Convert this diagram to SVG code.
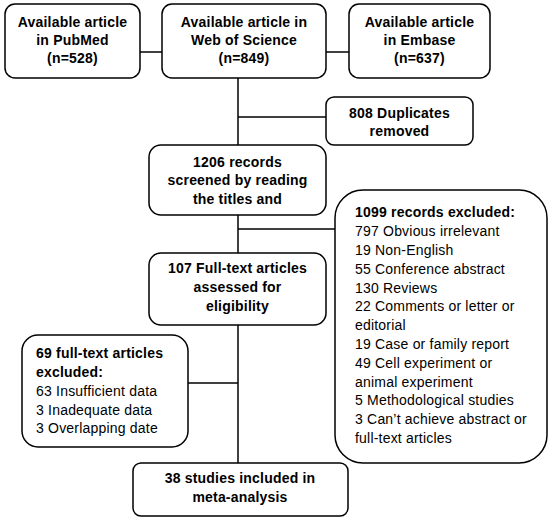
<svg xmlns="http://www.w3.org/2000/svg" width="550" height="520" viewBox="0 0 550 520">
<style>
.box{fill:#fff;stroke:#000;stroke-width:1.5}
.ln{stroke:#000;stroke-width:1.5;fill:none}
text{font-family:"Liberation Sans",Arial,sans-serif;font-size:14px;fill:#000;letter-spacing:0.2px}
.b{font-weight:bold}
.c{text-anchor:middle}
</style>
<rect width="550" height="520" fill="#fff"/>
<g id="connectors">
<line class="ln" x1="140" y1="52" x2="162" y2="52"/>
<line class="ln" x1="326" y1="52" x2="349" y2="52"/>
<line class="ln" x1="238" y1="78" x2="238" y2="145"/>
<line class="ln" x1="238" y1="117" x2="326" y2="117"/>
<line class="ln" x1="238" y1="215" x2="238" y2="253"/>
<line class="ln" x1="238" y1="229" x2="335" y2="229"/>
<line class="ln" x1="238" y1="325" x2="238" y2="463"/>
<line class="ln" x1="188" y1="383" x2="238" y2="383"/>
</g>
<g id="pubmed">
<rect class="box" x="5" y="4" width="135" height="74" rx="10"/>
<text class="b c" x="72.5" y="27">Available article</text>
<text class="b c" x="72.5" y="45">in PubMed</text>
<text class="b c" x="72.5" y="63">(n=528)</text>
</g>
<g id="wos">
<rect class="box" x="162" y="4" width="164" height="74" rx="10"/>
<text class="b c" x="244" y="27">Available article in</text>
<text class="b c" x="244" y="45">Web of Science</text>
<text class="b c" x="244" y="63">(n=849)</text>
</g>
<g id="embase">
<rect class="box" x="349" y="4" width="141" height="74" rx="10"/>
<text class="b c" x="419.5" y="27">Available article</text>
<text class="b c" x="419.5" y="45">in Embase</text>
<text class="b c" x="419.5" y="63">(n=637)</text>
</g>
<g id="duplicates">
<rect class="box" x="326" y="97" width="147" height="48" rx="8"/>
<text class="b c" x="399.5" y="118">808 Duplicates</text>
<text class="b c" x="399.5" y="136">removed</text>
</g>
<g id="screened">
<rect class="box" x="149" y="145" width="177" height="70" rx="12"/>
<text class="b c" x="237.5" y="167">1206 records</text>
<text class="b c" x="237.5" y="185">screened by reading</text>
<text class="b c" x="237.5" y="204">the titles and</text>
</g>
<g id="excluded1099">
<rect class="box" x="335" y="190" width="212" height="273" rx="28"/>
<text class="b" x="355" y="217">1099 records excluded:</text>
<text x="355" y="236">797 Obvious irrelevant</text>
<text x="355" y="255">19 Non-English</text>
<text x="355" y="274">55 Conference abstract</text>
<text x="355" y="293">130 Reviews</text>
<text x="355" y="311">22 Comments or letter or</text>
<text x="355" y="330">editorial</text>
<text x="355" y="349">19 Case or family report</text>
<text x="355" y="368">49 Cell experiment or</text>
<text x="355" y="387">animal experiment</text>
<text x="355" y="405">5 Methodological studies</text>
<text x="355" y="424">3 Can’t achieve abstract or</text>
<text x="355" y="443">full-text articles</text>
</g>
<g id="fulltext">
<rect class="box" x="149" y="253" width="177" height="72" rx="12"/>
<text class="b c" x="237.5" y="273">107 Full-text articles</text>
<text class="b c" x="237.5" y="292">assessed for</text>
<text class="b c" x="237.5" y="311">eligibility</text>
</g>
<g id="excluded69">
<rect class="box" x="22" y="335" width="166" height="112" rx="16"/>
<text class="b" x="36" y="358">69 full-text articles</text>
<text class="b" x="36" y="377">excluded:</text>
<text x="36" y="396">63 Insufficient data</text>
<text x="36" y="415">3 Inadequate data</text>
<text x="36" y="433">3 Overlapping date</text>
</g>
<g id="included">
<rect class="box" x="133" y="463" width="215" height="53" rx="8"/>
<text class="b c" x="240" y="483">38 studies included in</text>
<text class="b c" x="240" y="502">meta-analysis</text>
</g>
</svg>
